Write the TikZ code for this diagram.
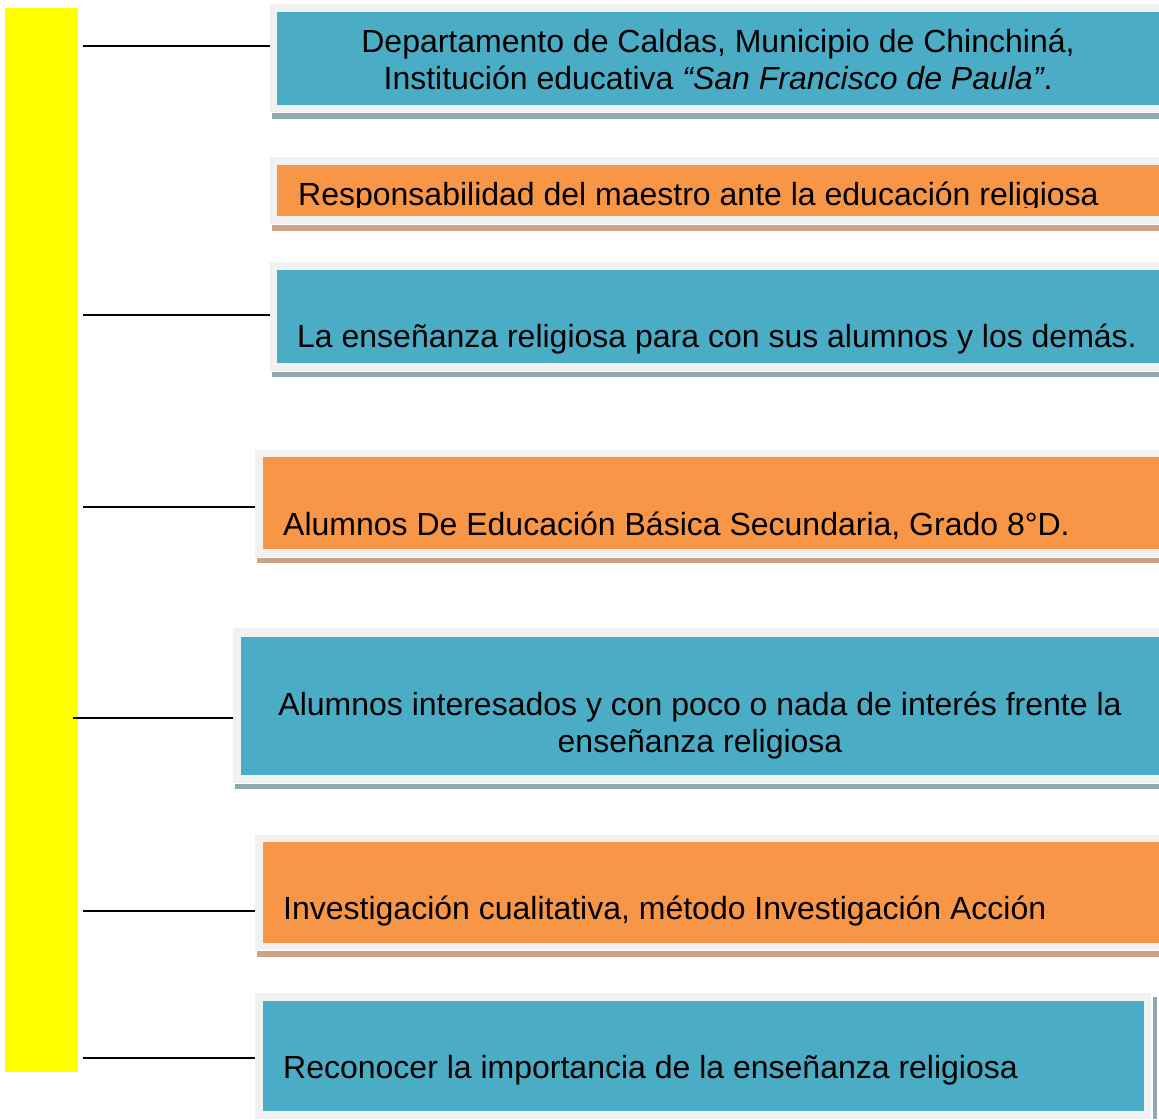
\documentclass[tikz,border=0pt]{standalone}
\usepackage{fontspec}
\setmainfont{Liberation Sans}
\definecolor{boxblue}{HTML}{4BACC6}
\definecolor{boxorange}{HTML}{F79646}
\definecolor{framegray}{HTML}{F1F1F1}
\definecolor{shblue}{HTML}{8FAAB5}
\definecolor{shorange}{HTML}{CFA283}
\definecolor{barYellow}{HTML}{FFFF00}
\begin{document}
\begin{tikzpicture}[x=1pt,y=-1pt,
  frame/.style={fill=framegray,draw=none},
  inblue/.style={fill=boxblue,draw=none},
  inorange/.style={fill=boxorange,draw=none},
  shb/.style={fill=shblue,draw=none},
  sho/.style={fill=shorange,draw=none},
  conn/.style={draw=black,line width=1.9pt},
  lbl/.style={font=\fontsize{32}{37}\selectfont,inner sep=0pt,text=black}]
\useasboundingbox (0,0) rectangle (1159,1119);
\clip (0,0) rectangle (1159,1119);
% yellow bar
\fill[barYellow] (5,8) rectangle (78,1072);
\node[inner sep=0pt,anchor=north west,minimum width=73pt,minimum height=1064pt] (bar) at (5,8) {};
% Box 1
\fill[shb] (272,113) rectangle (1170,119);
\node[frame,inner sep=0pt,anchor=north west,minimum width=900pt,minimum height=108pt] (f1) at (270,4) {};
\fill[inblue] (277,12) rectangle (1170,105);
\node[lbl,anchor=base] (t1a) at (718,52) {Departamento de Caldas, Municipio de Chinchiná,};
\node[lbl,anchor=base] (t1b) at (718,89) {Institución educativa \textit{“San Francisco de Paula”}.};
% Box 2
\fill[sho] (272,225) rectangle (1170,231);
\node[frame,inner sep=0pt,anchor=north west,minimum width=900pt,minimum height=67pt] (f2) at (270,157) {};
\fill[inorange] (277,165) rectangle (1170,216);
\begin{scope}
\clip (277,165) rectangle (1170,207);
\node[lbl,anchor=base west] (t2) at (298,205) {Responsabilidad del maestro ante la educación religiosa};
\end{scope}
% Box 3
\fill[shb] (272,372) rectangle (1170,377);
\node[frame,inner sep=0pt,anchor=north west,minimum width=900pt,minimum height=109pt] (f3) at (270,262) {};
\fill[inblue] (277,270) rectangle (1170,363);
\node[lbl,anchor=base west] (t3) at (297,347) {La enseñanza religiosa para con sus alumnos y los demás.};
% Box 4
\fill[sho] (257,558) rectangle (1170,563);
\node[frame,inner sep=0pt,anchor=north west,minimum width=915pt,minimum height=107pt] (f4) at (255,450) {};
\fill[inorange] (263,457) rectangle (1170,549);
\node[lbl,anchor=base west] (t4) at (283,535) {Alumnos De Educación Básica Secundaria, Grado 8°D.};
% Box 5
\fill[shb] (235,784) rectangle (1170,789);
\node[frame,inner sep=0pt,anchor=north west,minimum width=937pt,minimum height=155pt] (f5) at (233,628) {};
\fill[inblue] (241,637) rectangle (1170,775);
\node[lbl,anchor=base] (t5a) at (700,715) {Alumnos interesados y con poco o nada de interés frente la};
\node[lbl,anchor=base] (t5b) at (700,752) {enseñanza religiosa};
% Box 6
\fill[sho] (257,951) rectangle (1170,957);
\node[frame,inner sep=0pt,anchor=north west,minimum width=915pt,minimum height=115pt] (f6) at (255,835) {};
\fill[inorange] (263,842) rectangle (1170,943);
\node[lbl,anchor=base west] (t6) at (283,919) {Investigación cualitativa, método Investigación Acción};
% Box 7
\fill[shb] (1153,997) rectangle (1157,1119);
\node[frame,inner sep=0pt,anchor=north west,minimum width=896pt,minimum height=126pt] (f7) at (255,993) {};
\fill[inblue] (263,1001) rectangle (1144,1111);
\node[lbl,anchor=base west] (t7) at (283,1078) {Reconocer la importancia de la enseñanza religiosa};
% connectors
\coordinate (s1) at (83,46);
\coordinate (s3) at (83,315);
\coordinate (s4) at (83,507);
\coordinate (s5) at (73,718);
\coordinate (s6) at (83,911);
\coordinate (s7) at (83,1058);
\draw[conn] (s1) -- (s1 -| f1.west);
\draw[conn] (s3) -- (s3 -| f3.west);
\draw[conn] (s4) -- (s4 -| f4.west);
\draw[conn] (s5) -- (s5 -| f5.west);
\draw[conn] (s6) -- (s6 -| f6.west);
\draw[conn] (s7) -- (s7 -| f7.west);
\end{tikzpicture}
\end{document}
